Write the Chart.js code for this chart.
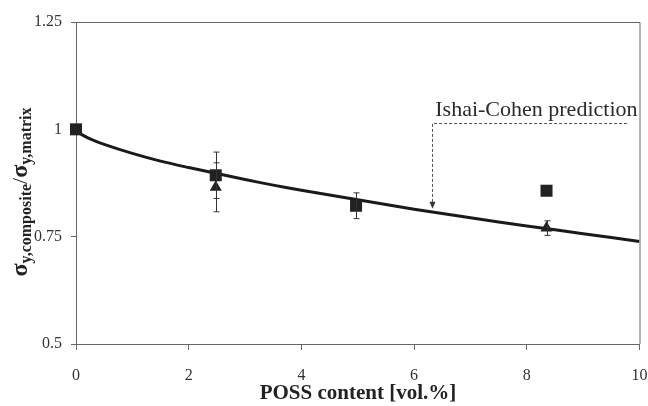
<!DOCTYPE html>
<html>
<head>
<meta charset="utf-8">
<script src="https://cdn.jsdelivr.net/npm/chart.js@4/dist/chart.umd.min.js"></script>
<style>
  html, body { margin: 0; padding: 0; background: #fff; }
  #wrap { width: 648px; height: 406px; }
</style>
</head>
<body>
<div id="wrap"><canvas id="c" width="648" height="406"></canvas></div>
<script>
// ---- data ----
const curveX = [0, 0.1, 0.25, 0.5, 1, 1.5, 2, 2.5, 3, 3.5, 4, 5, 6, 7, 8, 9, 10];
const curveY = [1.0, 0.988, 0.978, 0.965, 0.944, 0.926, 0.911, 0.897, 0.883, 0.870, 0.858, 0.836, 0.814, 0.794, 0.775, 0.757, 0.739];

const squareX = [0, 2.48, 4.97, 8.35];
const squareY = [1.0, 0.893, 0.822, 0.857];
const squareErr = [0, 0.054, 0.03, 0];

const triX = [2.48, 8.35];
const triY = [0.865, 0.770];
const triErr = [0.057, 0.017];

const xTicks = [0, 2, 4, 6, 8, 10];
const yTicks = [0.5, 0.75, 1, 1.25];
const yTickLabels = ['0.5', '0.75', '1', '1.25'];

const annotationText = 'Ishai-Cohen prediction';

// ---- helpers ----
const toPts = (xs, ys) => xs.map((x, i) => ({ x: x, y: ys[i] }));
const SERIF = '"Liberation Serif", "Times New Roman", serif';
const AXIS_COLOR = '#666';
const MARK = '#222';

const decor = {
  id: 'decor',
  afterDatasetsDraw(chart) {
    const { ctx, chartArea: a, scales: { x, y } } = chart;
    ctx.save();
    // frame top & right
    ctx.strokeStyle = AXIS_COLOR;
    ctx.lineWidth = 1;
    ctx.beginPath();
    ctx.moveTo(a.left, a.top + 0.5);
    ctx.lineTo(a.right + 0.5, a.top + 0.5);
    ctx.lineTo(a.right + 0.5, a.bottom);
    ctx.stroke();

    // error bars
    ctx.strokeStyle = '#333';
    ctx.lineWidth = 1;
    const bars = (xs, ys, es) => {
      xs.forEach((xv, i) => {
        if (!es[i]) return;
        const px = Math.round(x.getPixelForValue(xv)) + 0.5;
        const t = y.getPixelForValue(ys[i] + es[i]);
        const b = y.getPixelForValue(ys[i] - es[i]);
        ctx.beginPath();
        ctx.moveTo(px, t); ctx.lineTo(px, b);
        ctx.moveTo(px - 3, t); ctx.lineTo(px + 3, t);
        ctx.moveTo(px - 3, b); ctx.lineTo(px + 3, b);
        ctx.stroke();
      });
    };
    bars(squareX, squareY, squareErr);
    bars(triX, triY, triErr);

    // annotation
    const ax = Math.round(x.getPixelForValue(6.32)) + 0.5;
    const ay = Math.round(y.getPixelForValue(1.015)) + 0.5;
    const tipY = y.getPixelForValue(0.815);
    const endX = x.getPixelForValue(9.78);
    ctx.strokeStyle = '#555';
    ctx.setLineDash([3, 2]);
    ctx.beginPath();
    ctx.moveTo(endX, ay);
    ctx.lineTo(ax, ay);
    ctx.lineTo(ax, tipY - 6);
    ctx.stroke();
    ctx.setLineDash([]);
    ctx.fillStyle = '#333';
    ctx.beginPath();
    ctx.moveTo(ax - 3, tipY - 7);
    ctx.lineTo(ax + 3, tipY - 7);
    ctx.lineTo(ax, tipY);
    ctx.closePath();
    ctx.fill();

    ctx.fillStyle = '#2a2a2a';
    ctx.font = '22px ' + SERIF;
    ctx.textAlign = 'center';
    ctx.textBaseline = 'alphabetic';
    ctx.fillText(annotationText, x.getPixelForValue(8.17), y.getPixelForValue(1.03));
    ctx.restore();
  },
  afterDraw(chart) {
    const { ctx, chartArea: a } = chart;
    ctx.save();
    // x title
    ctx.fillStyle = '#222';
    ctx.font = 'bold 21px ' + SERIF;
    ctx.textAlign = 'center';
    ctx.textBaseline = 'alphabetic';
    ctx.fillText('POSS content [vol.%]', 358, 399);

    // y title with subscripts
    const parts = [
      { t: '\u03c3', f: 'bold 24px ' + SERIF, dy: 0 },
      { t: 'y,composite', f: 'bold 16px ' + SERIF, dy: 4 },
      { t: '/', f: '22px ' + SERIF, dy: 0 },
      { t: '\u03c3', f: 'bold 24px ' + SERIF, dy: 0 },
      { t: 'y,matrix', f: 'bold 16px ' + SERIF, dy: 4 }
    ];
    let total = 0;
    parts.forEach(p => { ctx.font = p.f; p.w = ctx.measureText(p.t).width; total += p.w; });
    ctx.translate(27, 192);
    ctx.rotate(-Math.PI / 2);
    ctx.textAlign = 'left';
    let cx = -total / 2;
    parts.forEach(p => {
      ctx.font = p.f;
      ctx.fillText(p.t, cx, p.dy);
      cx += p.w;
    });
    ctx.restore();
  }
};

new Chart(document.getElementById('c'), {
  type: 'scatter',
  data: {
    datasets: [
      {
        type: 'line',
        label: 'Ishai-Cohen',
        data: toPts(curveX, curveY),
        borderColor: '#1a1a1a',
        borderWidth: 3,
        pointRadius: 0,
        fill: false,
        tension: 0.3,
        order: 3
      },
      {
        label: 'squares',
        data: toPts(squareX, squareY),
        pointStyle: 'rect',
        pointRadius: 8.5,
        backgroundColor: MARK,
        borderColor: MARK,
        borderWidth: 0,
        clip: false,
        order: 1
      },
      {
        label: 'triangles',
        data: toPts(triX, triY),
        pointStyle: 'triangle',
        pointRadius: 7,
        backgroundColor: MARK,
        borderColor: MARK,
        borderWidth: 0,
        clip: false,
        order: 2
      }
    ]
  },
  options: {
    responsive: false,
    animation: false,
    devicePixelRatio: 1,
    layout: { padding: { top: 22, right: 7, left: 0, bottom: 0 } },
    plugins: { legend: { display: false }, tooltip: { enabled: false } },
    scales: {
      x: {
        type: 'linear',
        min: 0, max: 10,
        afterBuildTicks: s => { s.ticks = xTicks.map(v => ({ value: v })); },
        afterFit: s => { s.height = 62; s.paddingLeft = 0; s.paddingRight = 0; },
        ticks: { font: { family: SERIF, size: 16 }, color: '#333', padding: 16, maxRotation: 0 },
        grid: { display: true, drawOnChartArea: false, drawTicks: true, tickLength: 6, color: AXIS_COLOR },
        border: { display: true, color: AXIS_COLOR, width: 1 },
        title: { display: false }
      },
      y: {
        type: 'linear',
        min: 0.5, max: 1.25,
        afterBuildTicks: s => { s.ticks = yTicks.map(v => ({ value: v })); },
        afterFit: s => { s.width = 76; s.paddingTop = 0; s.paddingBottom = 0; },
        ticks: {
          font: { family: SERIF, size: 16 }, color: '#333', padding: 9,
          callback: (v, i) => yTickLabels[yTicks.indexOf(v)] ?? ''
        },
        grid: { display: true, drawOnChartArea: false, drawTicks: true, tickLength: 5, color: AXIS_COLOR },
        border: { display: true, color: AXIS_COLOR, width: 1 },
        title: { display: false }
      }
    }
  },
  plugins: [decor]
});
</script>
</body>
</html>
